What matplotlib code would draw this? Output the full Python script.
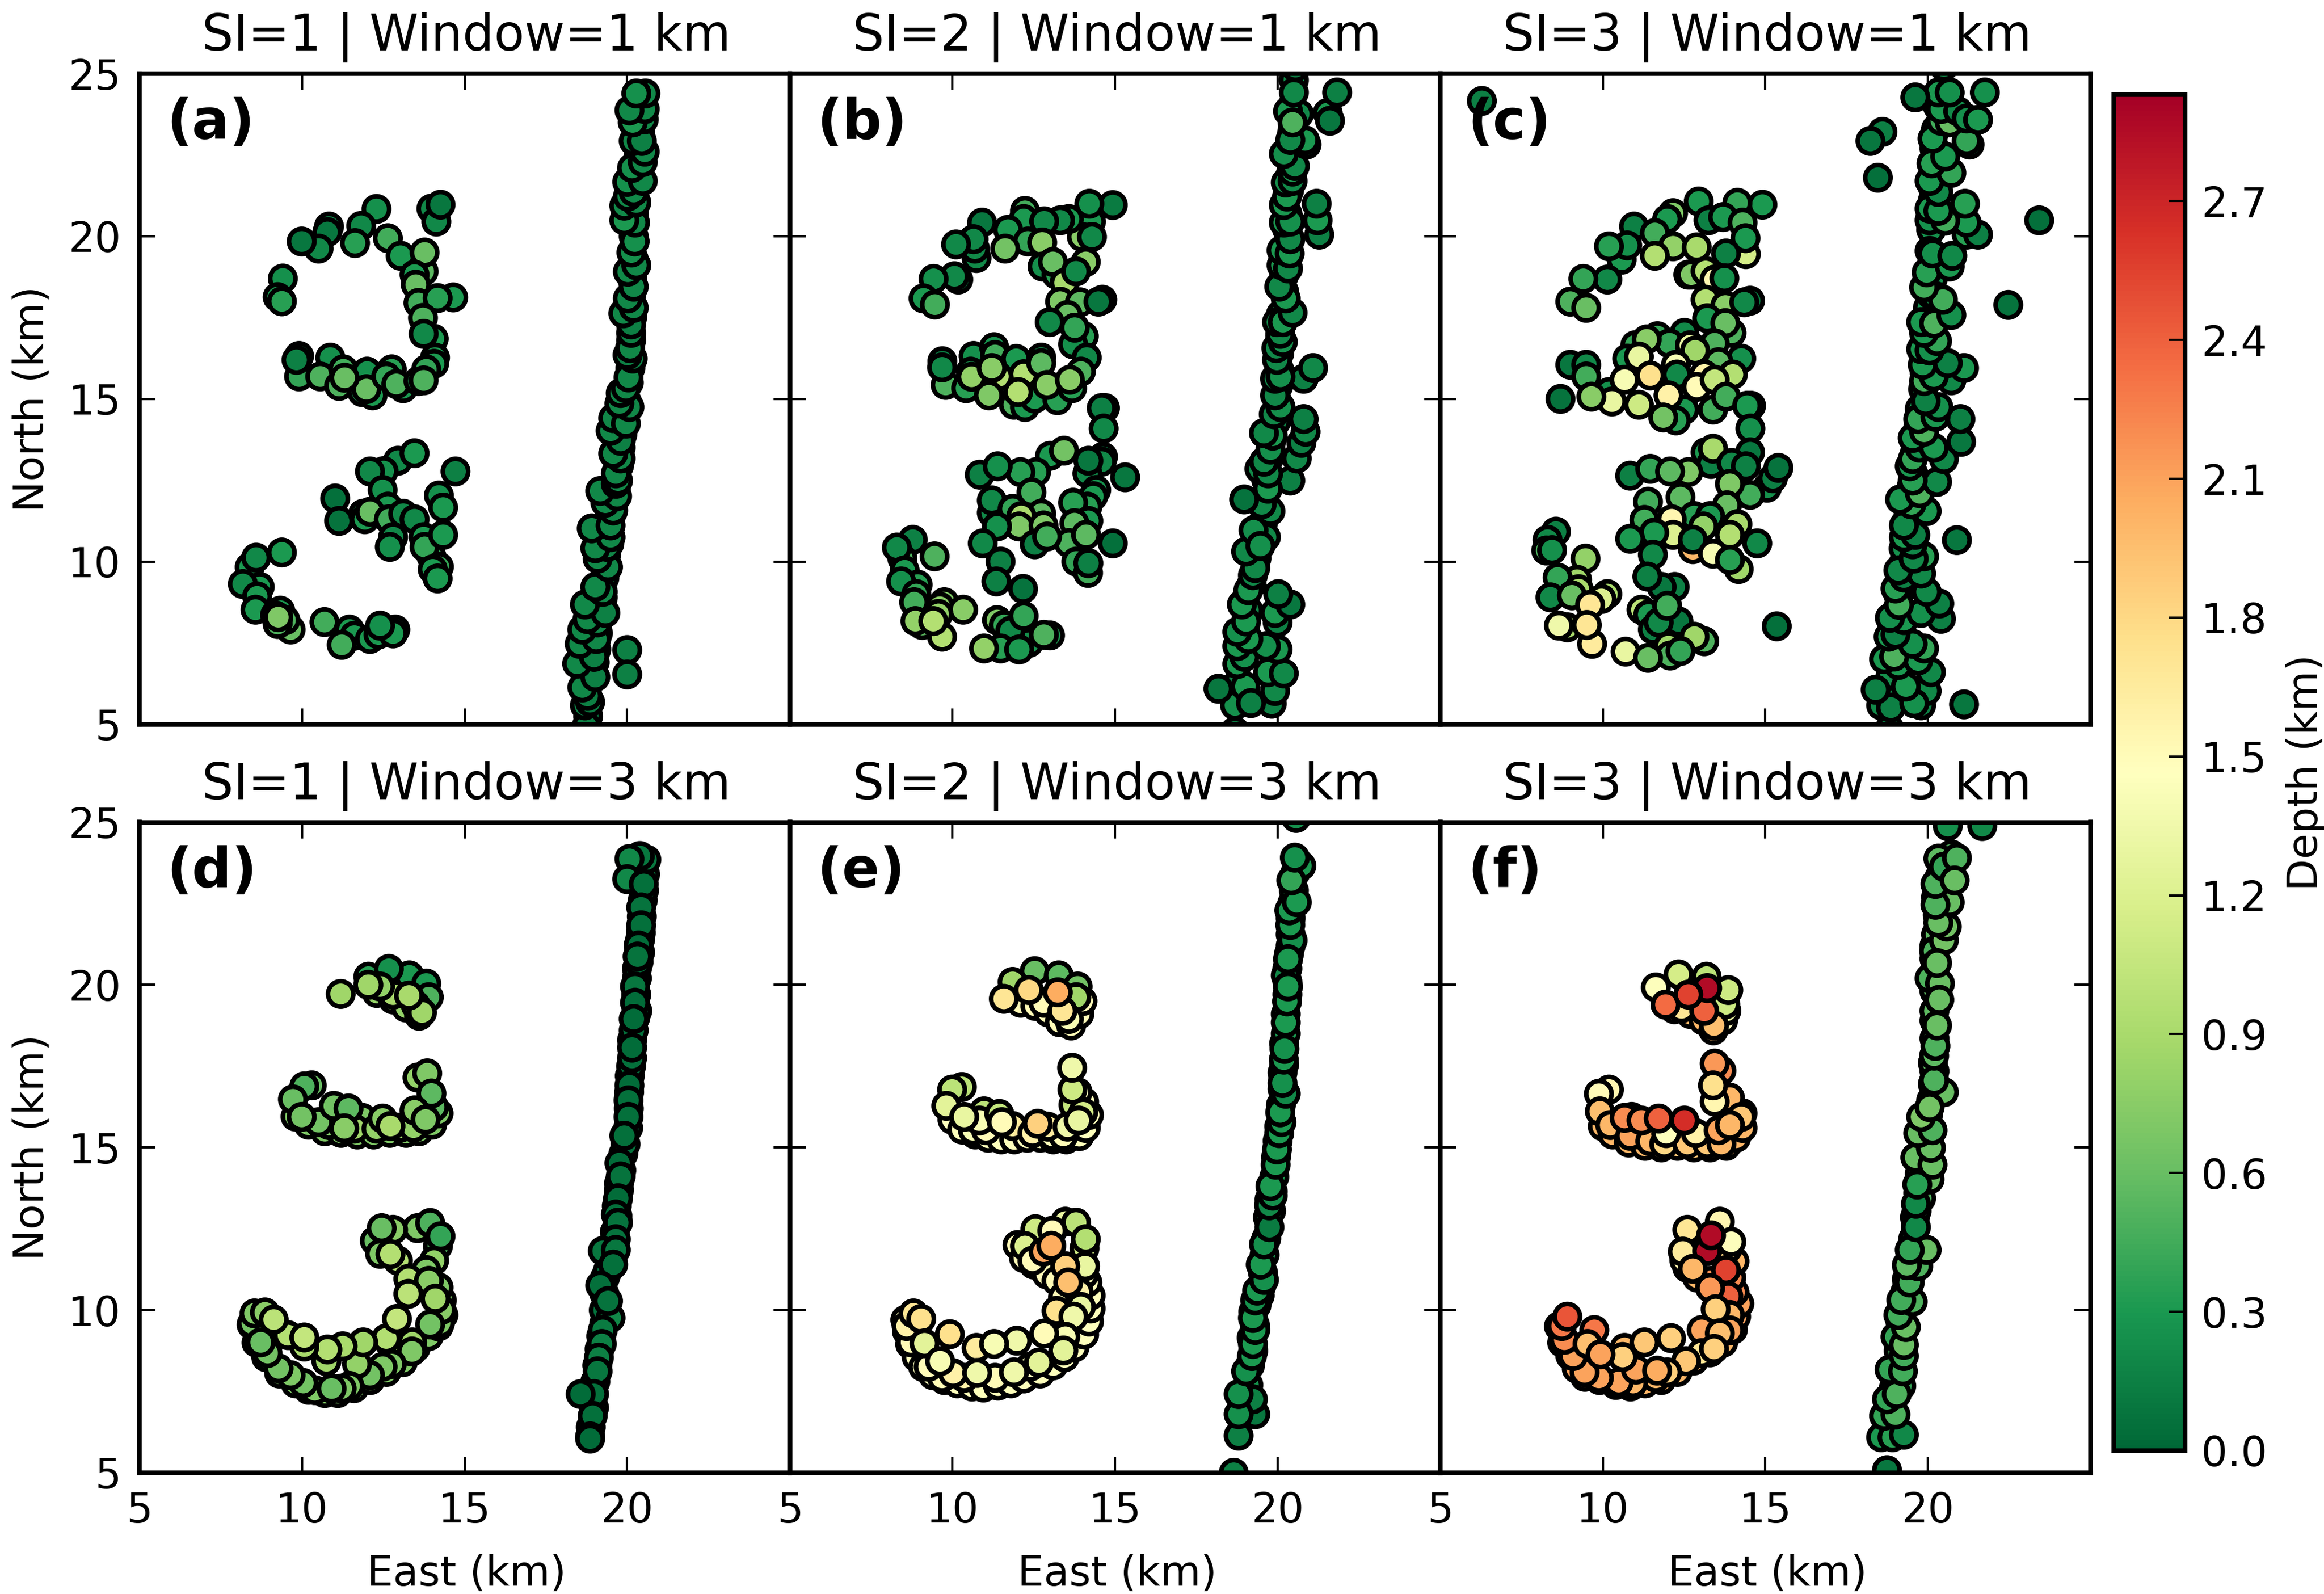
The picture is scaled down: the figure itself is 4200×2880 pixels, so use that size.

# depth solutions for SI=1,2,3 and two window sizes
import numpy as np
import matplotlib
matplotlib.use('Agg')
import matplotlib.pyplot as plt

# each row: east (km), north (km), depth (km)
# trace_* are the solutions buried under the others along each dense band
trace_a = [[18.8,5.25,.12],[18.95,6.6,.15],[19.0,6.9,.15],[19.05,7.3,.15],[19.1,7.8,.15],[19.2,8.7,.15],[19.25,8.9,.15],[19.3,9.5,.15],
           [19.35,10.2,.15],[19.45,10.55,.15],[19.5,11.4,.15],[19.6,11.9,.15],[19.65,12.2,.15],[19.75,12.95,.15],[19.8,13.5,.15],[19.85,13.9,.15],
           [19.9,14.5,.15],[20.0,14.9,.15],[20.05,15.5,.15],[20.1,15.95,.15],[20.12,16.8,.15],[20.15,17.5,.15],[20.12,18.2,.15],[20.15,18.7,.15],
           [20.2,19.3,.15],[20.2,20.0,.15],[20.2,20.7,.15],[20.25,21.5,.15],[20.3,21.9,.15],[20.35,22.45,.15],[20.4,23.2,.15],[20.45,23.7,.15],[20.45,24.1,.15]]
trace_b = [[18.8,6.3,.2],[18.85,7.2,.2],[19.0,8.0,.2],[19.1,8.5,.2],[19.2,9.3,.2],[19.35,10.1,.2],[19.45,10.7,.2],[19.55,11.2,.2],[19.6,11.95,.2],
           [19.65,12.5,.2],[19.75,13.2,.2],[19.8,13.7,.2],[19.95,14.3,.2],[20.0,14.9,.2],[20.02,15.4,.2],[20.05,15.9,.2],[20.05,16.4,.2],[20.08,16.9,.2],
           [20.1,17.6,.2],[20.2,18.3,.2],[20.2,18.8,.2],[20.3,19.3,.2],[20.3,20.2,.2],[20.3,20.7,.2],[20.35,21.4,.2],[20.4,21.9,.2],[20.4,22.3,.2],
           [20.45,23.2,.2],[20.45,24.0,.2],[20.5,24.8,.2]]
trace_c = [[18.75,5.9,.25],[18.85,6.5,.25],[19.0,7.3,.25],[19.05,7.9,.25],[19.05,8.5,.25],[19.1,8.95,.25],[19.2,9.35,.25],[19.25,9.95,.25],
           [19.25,10.4,.25],[19.3,10.95,.25],[19.4,11.4,.25],[19.5,12.3,.25],[19.55,12.7,.25],[19.6,13.35,.25],[19.7,14.1,.25],[19.75,14.7,.25],
           [19.85,15.3,.25],[19.9,15.8,.25],[19.9,16.3,.25],[19.95,16.9,.25],[20.0,17.15,.25],[20.0,17.8,.25],[20.1,18.2,.25],[20.15,18.7,.25],
           [20.15,19.3,.25],[20.1,20.2,.25],[20.15,21.1,.25],[20.15,21.5,.25],[20.2,22.1,.25],[20.2,22.7,.25],[20.25,23.3,.25],[20.3,24.0,.25]]
trace_d = [[18.88,6.4,.05],[18.98,7.0,.05],[19.02,7.8,.05],[19.08,8.3,.05],[19.15,8.8,.05],[19.2,9.2,.05],[19.3,9.6,.05],[19.28,10.0,.05],[19.3,10.5,.05],
           [19.32,11.0,.05],[19.4,11.2,.05],[19.45,11.6,.05],[19.55,12.0,.05],[19.62,12.4,.05],[19.7,12.9,.05],[19.68,13.2,.05],[19.75,13.7,.05],[19.75,13.9,.05],
           [19.82,14.3,.05],[19.88,14.8,.05],[19.95,15.1,.05],[20.03,15.6,.05],[20.05,16.2,.05],[20.06,16.7,.05],[20.08,17.2,.05],[20.12,17.5,.05],[20.15,18.3,.05],
           [20.2,18.6,.05],[20.25,19.0,.05],[20.28,19.7,.05],[20.3,20.2,.05],[20.3,20.5,.05],[20.35,20.7,.05],[20.4,21.0,.05],[20.4,21.4,.05],[20.42,21.6,.05],
           [20.45,22.1,.05],[20.48,22.6,.05],[20.52,22.9,.05],[20.55,23.4,.05],
           [8.45,9.55,.7],[8.6,9.0,.7],[8.9,8.55,.7],[9.3,8.05,.7],[9.8,7.75,.7],[10.2,7.55,.7],[10.7,7.45,.7],[11.1,7.45,.7],[11.6,7.6,.7],[12.1,7.85,.7],
           [12.6,8.1,.7],[13.1,8.4,.7],[13.5,8.85,.7],[13.9,9.2,.7],[14.2,9.5,.7],[14.35,9.85,.7],[14.3,10.3,.7],[14.2,10.7,.7],
           [9.8,15.95,.7],[10.2,15.7,.7],[10.7,15.5,.7],[11.2,15.45,.7],[11.7,15.4,.7],[12.2,15.4,.7],[12.7,15.45,.7],[13.2,15.45,.7],[13.6,15.5,.7],[14.0,15.7,.7],[14.2,16.05,.7],
           [12.3,19.75,.8],[12.8,19.55,.8],[13.2,19.3,.8],[13.6,19.05,.8]]
trace_e = [[19.1,7.7,.25],[19.15,8.3,.3],[19.25,8.75,.3],[19.2,9.15,.3],[19.3,9.55,.3],[19.25,9.95,.3],[19.35,10.15,.3],[19.45,10.45,.3],[19.5,10.75,.3],
           [19.55,11.15,.3],[19.6,11.7,.3],[19.65,12.2,.3],[19.7,12.85,.3],[19.8,13.05,.3],[19.75,13.4,.3],[19.85,13.65,.3],[19.9,14.1,.3],[19.95,14.7,.3],
           [20.0,15.2,.3],[20.05,15.65,.3],[20.1,16.3,.3],[20.15,16.8,.3],[20.15,17.3,.3],[20.2,17.55,.3],[20.2,18.2,.3],[20.25,18.5,.3],[20.25,19.1,.3],
           [20.3,19.7,.3],[20.3,20.1,.3],[20.3,20.5,.3],[20.35,20.95,.3],[20.4,21.2,.3],[20.4,21.55,.3],[20.4,22.05,.3],[20.45,22.5,.3],[20.5,22.9,.3],[20.55,23.45,.3],[20.6,23.8,.3],
           [8.55,9.7,1.45],[8.6,9.35,1.45],[8.7,8.95,1.45],[8.9,8.55,1.45],[9.1,8.25,1.45],[9.4,8.0,1.45],[9.75,7.85,1.45],[10.15,7.75,1.45],[10.6,7.65,1.45],[10.95,7.62,1.45],
           [11.4,7.68,1.45],[11.8,7.75,1.45],[12.2,7.9,1.45],[12.7,8.05,1.45],[13.1,8.3,1.45],[13.45,8.55,1.45],[13.75,8.85,1.45],[14.05,9.25,1.45],[14.2,9.65,1.45],
           [14.25,10.05,1.45],[14.25,10.45,1.45],[14.15,10.85,1.45],[14.05,11.1,1.45],
           [10.0,15.85,1.45],[10.3,15.55,1.45],[10.7,15.4,1.45],[11.1,15.3,1.45],[11.5,15.25,1.45],[11.9,15.25,1.45],[12.3,15.3,1.45],[12.7,15.3,1.45],[13.1,15.25,1.45],
           [13.5,15.25,1.45],[13.9,15.35,1.45],[14.1,15.6,1.45],[14.2,16.0,1.45],[14.05,16.4,1.45],[13.85,16.7,1.45],
           [12.1,19.45,1.5],[12.55,19.35,1.5],[12.95,19.15,1.5],[13.3,18.85,1.5],[13.65,18.75,1.5],[13.9,19.1,1.5],[14.0,19.5,1.5],
           [12.0,12.0,1.5],[12.2,11.6,1.5],[12.5,11.4,1.5],[12.9,11.1,1.5],[13.2,10.9,1.5],[13.4,10.4,1.5]]
trace_f = [[18.9,7.0,.45],[18.95,7.6,.45],[19.05,7.9,.45],[19.05,8.35,.45],[19.1,8.75,.45],[19.1,9.1,.45],[19.15,9.65,.45],[19.2,10.05,.45],[19.3,10.55,.45],[19.35,10.95,.45],
           [19.45,11.55,.45],[19.55,12.2,.45],[19.6,12.85,.45],[19.65,13.05,.45],[19.7,13.6,.45],[19.75,14.2,.5],[19.85,14.9,.5],[19.9,15.2,.5],[19.95,15.7,.5],[20.0,16.0,.55],
           [20.1,16.45,.55],[20.15,16.95,.55],[20.2,17.35,.55],[20.15,17.6,.55],[20.2,18.35,.55],[20.2,18.9,.55],[20.2,19.2,.55],[20.2,19.8,.55],[20.2,20.4,.55],[20.2,20.8,.55],
           [20.2,21.2,.55],[20.25,21.55,.55],[20.3,22.15,.55],[20.25,22.7,.55],[20.35,23.3,.55],[20.45,23.75,.55],
           [8.65,9.5,2.2],[8.75,9.0,2.2],[9.0,8.6,2.1],[9.2,8.2,2.1],[9.45,7.95,2.1],[9.9,7.85,2.1],[10.4,7.7,2.1],[10.85,7.65,2.0],[11.3,7.75,2.0],[11.8,7.85,2.0],
           [12.3,8.1,2.0],[12.8,8.45,2.0],[13.3,8.7,2.0],[13.7,9.0,2.0],[14.0,9.4,2.0],[14.1,9.8,2.1],[14.2,10.2,2.1],[14.05,10.55,2.2],[13.95,11.0,2.2],[14.05,11.5,2.0],[13.85,11.9,1.8],
           [10.0,15.65,2.0],[10.3,15.4,2.0],[10.8,15.15,2.0],[11.3,15.05,2.0],[11.8,15.0,1.9],[12.3,15.05,1.9],[12.8,15.0,1.9],[13.3,15.0,1.9],[13.8,15.05,2.0],[14.1,15.3,2.0],[14.3,15.6,2.0],[14.3,16.05,2.0],
           [12.2,19.25,2.0],[12.7,19.1,2.0],[13.1,18.9,2.0],[13.4,18.6,2.0],[13.7,18.9,1.5],[13.8,19.2,1.3],
           [12.6,11.3,2.0],[12.9,11.0,2.0],[13.3,10.9,2.2],[12.5,11.65,1.7]]

points_a = np.array([
    # fault trace
    [18.75,4.93,.15],[18.7,5.58,.15],[18.86,5.68,.12],[18.78,5.87,.15],[18.62,6.13,.2],[19.02,6.45,.15],[18.46,6.86,.2],
    [18.98,7.07,.15],[18.54,7.47,.2],[19.05,7.62,.2],[18.62,7.91,.2],[19.09,8.13,.2],[18.78,8.23,.2],[19.33,8.42,.15],
    [18.7,8.68,.2],[19.25,9.07,.2],[19.02,9.22,.2],[19.41,9.83,.2],[19.09,10.09,.2],[19.38,10.45,.2],[19.02,10.41,.2],
    [19.49,10.75,.2],[18.91,11.02,.2],[19.49,11.11,.2],[19.57,11.57,.2],[19.33,11.81,.2],[19.69,12.01,.2],[19.17,12.17,.2],
    [19.65,12.39,.2],[19.72,12.49,.2],[19.65,12.71,.2],[19.8,13.17,.2],[19.57,13.32,.2],[19.8,13.71,.15],[19.49,14.02,.2],
    [19.57,14.41,.2],[19.96,14.24,.2],[20.07,14.75,.2],[19.76,14.86,.2],[19.8,15.18,.2],[19.96,15.33,.2],[20.04,15.66,.2],
    [20.17,16.24,.15],[20.01,16.35,.15],[20.09,16.56,.2],[20.12,17.03,.15],[20.12,17.29,.15],[19.88,17.63,.2],[20.2,17.8,.2],
    [20.02,18.09,.2],[20.2,18.45,.2],[20.02,18.91,.2],[20.28,19.11,.2],[20.13,19.5,.25],[20.23,19.84,.25],[20.24,20.42,.2],
    [19.91,20.49,.3],[19.91,20.94,.2],[20.28,21.04,.2],[20.02,21.22,.2],[20.2,21.36,.2],[20.0,21.67,.25],[20.48,21.7,.2],
    [20.15,22.1,.25],[20.48,22.28,.2],[20.54,22.6,.2],[20.2,22.93,.2],[20.45,22.93,.15],[20.51,23.59,.2],[20.17,23.5,.3],
    [20.54,23.91,.2],[20.07,23.87,.2],[20.56,24.39,.2],[20.28,24.39,.25],[20.0,7.28,.15],[20.0,6.53,.15],
    # upper arc
    [13.98,20.85,.2],[14.13,20.45,.2],[14.26,20.97,.1],[12.29,20.84,.25],[11.82,20.32,.2],[10.83,20.3,.15],[10.78,20.13,.1],
    [10.51,19.62,.2],[9.99,19.84,.1],[11.63,19.79,.35],[12.64,19.94,.45],[13.03,19.4,.3],[13.74,18.92,.55],[13.77,19.5,.6],
    [13.46,18.82,.3],[13.5,18.51,.6],[13.58,17.95,.45],[14.65,18.12,.3],[14.17,18.1,.35],[13.72,17.49,.5],[14.05,16.85,.3],
    [13.74,17.0,.2],[14.09,16.27,.3],[14.06,16.08,.3],[9.41,18.7,.25],[9.25,18.13,.3],[9.38,18.0,.35],
    # middle row
    [9.91,16.32,.2],[9.91,15.69,.4],[9.83,16.2,.15],[10.87,16.27,.25],[10.56,15.69,.5],[11.14,15.4,.5],[11.27,15.91,.45],
    [11.85,15.21,.3],[12.17,15.11,.3],[12.0,15.84,.25],[11.98,15.3,.6],[11.31,15.65,.6],[12.76,15.91,.35],[12.59,15.69,.4],
    [13.11,15.33,.3],[12.9,15.46,.5],[13.58,15.55,.3],[13.82,15.91,.4],[13.74,15.57,.5],
    # lower group
    [12.95,13.1,.2],[13.46,13.33,.3],[12.51,12.78,.25],[12.09,12.77,.2],[14.72,12.77,.15],[12.48,12.2,.25],[11.02,11.94,.05],
    [11.14,11.25,.08],[11.88,11.47,.3],[11.93,11.3,.3],[12.64,11.69,.3],[12.09,11.53,.6],[12.67,11.3,.45],[13.11,11.47,.2],
    [13.46,11.3,.2],[14.21,12.03,.25],[14.34,11.66,.3],[13.98,10.16,.4],[13.74,10.75,.3],[13.77,10.45,.4],[12.8,10.75,.2],
    [12.7,10.45,.25],[14.34,10.82,.3],[14.21,9.84,.4],[14.02,9.76,.3],[14.17,9.48,.3],
    # lower arc
    [9.38,10.28,.3],[8.39,9.83,.3],[8.59,10.12,.2],[8.7,9.22,.3],[8.18,9.31,.2],[8.62,8.93,.3],[8.57,8.52,.3],[9.33,8.49,.3],
    [9.17,8.35,.4],[9.65,7.91,.6],[9.49,8.2,.5],[9.25,8.08,.5],[9.27,8.29,.7],[10.69,8.14,.45],[11.46,7.91,.3],[11.61,7.72,.3],
    [12.09,7.62,.3],[11.22,7.44,.45],[12.35,7.76,.3],[12.87,7.91,.2],[12.8,7.79,.3],[12.4,8.03,.25],
])

points_b = np.array([
    [18.69,4.78,.1],[18.69,5.58,.25],[19.82,5.63,.15],[19.92,6.02,.2],[19.01,6.16,.3],[18.18,6.09,.1],[19.18,5.65,.15],
    [19.71,6.6,.3],[20.19,6.56,.2],[18.76,6.85,.3],[18.98,7.07,.25],[20.0,7.3,.3],[19.64,7.4,.25],[18.76,7.4,.3],[19.1,7.62,.3],
    [18.76,7.84,.25],[20.0,8.13,.15],[19.03,8.16,.3],[19.92,8.42,.3],[18.9,8.68,.3],[20.39,8.68,.1],[20.02,9.0,.15],[19.1,9.12,.3],
    [19.24,9.58,.2],[19.31,9.8,.2],[19.03,10.31,.2],[19.64,10.75,.2],[19.26,10.96,.25],[19.47,10.48,.25],[19.78,11.55,.2],
    [19.51,11.76,.2],[18.97,11.91,.08],[20.39,12.49,.15],[19.7,12.24,.3],[19.44,12.85,.2],[19.71,12.71,.2],[19.58,13.07,.2],
    [20.59,13.17,.2],[19.78,13.44,.25],[20.73,13.65,.15],[19.85,13.87,.3],[19.58,13.95,.2],[20.86,13.99,.2],[20.8,14.38,.15],
    [19.88,14.53,.2],[20.09,14.75,.25],[19.92,15.11,.2],[19.92,15.62,.2],[20.8,15.62,.15],[20.09,15.68,.25],[21.09,15.95,.2],
    [19.98,16.2,.2],[19.96,16.56,.2],[20.16,16.75,.25],[20.08,17.0,.2],[19.98,17.36,.2],[20.16,17.36,.3],[20.46,17.65,.2],
    [20.25,18.09,.3],[20.05,18.45,.2],[20.12,19.11,.3],[20.32,19.01,.2],[20.12,19.57,.3],[20.37,19.47,.3],[20.39,19.91,.2],
    [21.28,20.05,.15],[21.23,20.49,.3],[20.19,20.42,.3],[20.39,20.45,.25],[20.19,20.96,.3],[21.2,21.0,.15],[20.29,21.22,.3],
    [20.25,21.65,.25],[20.46,21.7,.2],[20.46,21.99,.3],[20.53,22.16,.2],[20.19,22.53,.25],[20.89,22.82,.15],[20.84,22.95,.3],
    [20.39,22.96,.2],[20.66,23.76,.2],[20.32,23.84,.3],[20.46,23.5,.5],[21.54,23.79,.3],[21.61,23.55,.1],[20.5,24.42,.2],
    [21.83,24.42,.15],[20.55,25.2,.15],
    # upper arc
    [14.93,20.96,.12],[14.26,20.45,.3],[14.21,21.0,.25],[13.98,19.98,.75],[14.29,19.98,.2],[13.58,20.53,.3],[13.31,20.49,.2],
    [12.23,20.78,.45],[12.19,20.53,.3],[12.82,20.46,.2],[10.91,20.42,.1],[11.71,20.2,.3],[10.74,19.33,.2],[10.69,19.62,.2],
    [10.65,19.91,.2],[10.11,19.75,.2],[12.32,19.84,.4],[11.62,19.62,.65],[12.76,19.81,.75],[12.77,19.07,.25],[14.1,19.21,.75],
    [13.2,18.82,.35],[13.09,19.21,.6],[13.45,18.57,.9],[13.8,18.92,.2],[10.18,18.67,.15],[10.06,18.77,.2],[9.42,18.69,.25],
    [9.11,18.09,.3],[9.46,17.9,.45],[13.31,17.99,.7],[13.92,17.97,.55],[14.61,18.05,.1],[14.49,17.99,.1],[13.54,17.58,.6],
    [12.99,17.36,.2],[14.04,16.93,.35],[13.71,16.68,.25],[13.76,17.19,.4],[14.13,16.27,.2],[13.95,15.84,.5],
    # middle row
    [9.79,15.43,.5],[9.69,16.16,.1],[9.68,15.97,.2],[10.65,16.32,.25],[10.42,15.33,.35],[10.56,15.84,.25],[10.59,15.68,.8],
    [11.28,16.59,.25],[11.31,16.35,.45],[11.89,14.82,.5],[12.23,14.75,.3],[11.96,16.23,.3],[12.19,15.76,.95],[11.41,15.69,.95],
    [11.21,15.95,.75],[11.12,15.11,.7],[12.53,15.01,.3],[12.02,15.21,.95],[12.73,16.27,.2],[12.73,16.1,.55],[13.23,14.96,.35],
    [12.91,15.43,.75],[13.68,15.33,.35],[13.61,15.59,.75],
    [14.69,14.72,.1],[14.59,14.72,.15],[14.65,14.09,.2],
    # lower group
    [14.63,13.22,.1],[14.59,13.07,.2],[13.0,13.25,.3],[13.43,13.41,.65],[14.15,12.71,.2],[14.18,13.1,.1],[15.31,12.59,.1],
    [12.57,12.75,.35],[12.09,12.75,.35],[10.84,12.67,.15],[11.39,12.93,.25],[14.42,12.2,.25],[14.33,12.01,.3],[12.43,12.13,.45],
    [11.21,11.5,.2],[11.21,11.88,.2],[14.15,11.69,.35],[13.71,11.81,.35],[11.85,11.62,.4],[12.73,11.47,.55],[12.12,11.4,.9],
    [12.05,11.08,.7],[11.37,11.08,.25],[12.8,11.11,.7],[14.18,11.25,.3],[13.75,11.18,.55],[10.93,10.56,.2],[12.53,10.53,.15],
    [13.58,10.57,.5],[12.91,10.77,.45],[14.11,10.82,.55],[14.93,10.56,.05],[13.81,10.0,.4],[11.48,10.0,.15],[14.17,9.65,.45],
    [14.18,9.95,.15],[11.35,9.39,.15],[12.17,9.16,.08],
    # lower arc
    [8.78,10.67,.15],[8.46,10.09,.5],[8.29,10.43,.2],[9.45,10.16,.5],[8.53,9.73,.3],[8.93,9.29,.35],[8.42,9.39,.25],[8.89,9.0,.4],
    [8.82,8.75,.45],[9.75,8.75,.7],[9.61,8.61,.75],[10.33,8.52,.75],[9.07,8.05,.55],[8.86,8.17,.8],[9.57,8.39,.8],[9.68,7.69,.95],
    [9.41,8.17,.95],[11.37,8.2,.7],[11.58,8.05,.4],[12.12,7.69,.3],[12.35,7.5,.25],[11.78,7.87,.2],[12.19,8.33,.4],[11.48,7.33,.35],
    [12.05,7.3,.3],[10.97,7.33,.8],[13.0,7.73,.3],[12.81,7.75,.5],
])

points_c = np.array([
    # fault trace
    [18.82,4.85,.1],[18.56,5.58,.2],[18.86,5.51,.15],[19.79,5.58,.15],[19.96,6.02,.2],[19.58,5.64,.25],[18.39,6.06,.15],[19.32,6.16,.3],
    [20.09,6.6,.2],[19.09,6.82,.3],[19.7,6.96,.3],[18.65,7.0,.3],[18.96,7.08,.5],[19.88,7.33,.4],[19.53,7.47,.25],[18.79,7.69,.3],
    [19.0,7.76,.15],[19.26,8.2,.3],[20.4,8.24,.15],[18.83,8.27,.25],[19.79,8.42,.25],[19.11,8.67,.45],[20.35,8.71,.15],[19.96,9.07,.2],
    [19.0,9.17,.35],[19.26,9.51,.15],[19.79,9.63,.2],[19.09,9.73,.2],[19.88,10.16,.35],[19.56,10.09,.2],[19.53,10.53,.2],[19.26,10.75,.3],
    [19.61,10.82,.15],[19.26,11.11,.2],[19.96,11.55,.3],[19.49,11.76,.4],[19.14,11.91,.3],[19.75,12.1,.5],[20.28,12.45,.2],[19.53,12.49,.35],
    [19.44,12.93,.3],[19.53,13.15,.4],[20.49,13.15,.2],[19.74,13.5,.25],[20.18,13.5,.3],[19.53,13.8,.3],[21.02,13.68,.1],[19.88,13.99,.5],
    [19.7,14.38,.4],[21.0,14.38,.15],[20.23,14.45,.3],[20.32,14.75,.25],[19.93,14.93,.15],[19.88,15.55,.45],[20.72,15.57,.2],[20.18,15.69,.3],
    [19.84,16.05,.3],[21.11,15.95,.3],[20.61,16.1,.15],[19.79,16.53,.3],[20.05,16.49,.25],[20.28,16.78,.4],[19.88,17.03,.3],[19.79,17.36,.3],
    [20.19,17.32,.5],[20.72,17.58,.25],[20.23,18.16,.3],[20.46,18.05,.45],[19.88,18.43,.45],[19.96,18.89,.35],[20.67,19.07,.3],[20.05,19.55,.3],
    [20.14,19.47,.25],[20.75,19.4,.2],[21.19,20.05,.35],[21.54,20.05,.15],[20.05,20.49,.25],[21.19,20.42,.3],[20.53,20.48,.45],[20.05,20.85,.3],
    [20.32,20.78,.3],[21.14,21.0,.35],[20.32,21.36,.2],[20.05,21.7,.3],[20.72,21.95,.4],[20.11,22.24,.35],[20.53,22.45,.3],[21.28,22.82,.2],
    [21.19,22.93,.4],[20.14,23.0,.3],[20.4,23.55,.45],[20.67,23.5,.6],[20.4,23.91,.3],[20.93,23.84,.2],[21.19,23.62,.25],[21.54,23.58,.3],
    [20.32,24.42,.3],[20.67,24.42,.25],[21.75,24.42,.25],[20.49,25.22,.2],
    # scattered far points
    [6.28,24.16,.15],[18.6,23.21,.15],[18.23,22.93,.1],[18.46,21.8,.05],[19.61,24.27,.1],[23.42,20.49,.05],[22.47,17.89,.08],
    [20.89,10.66,.1],[21.11,5.61,.1],[15.35,8.01,.05],[8.7,15.0,.08],
    # upper arc
    [14.91,20.97,.3],[14.14,21.03,.4],[12.16,20.71,.7],[11.98,20.53,.3],[12.95,21.07,.3],[13.25,20.49,.15],[13.7,20.59,.3],[14.3,20.42,.5],
    [14.4,19.45,1.15],[14.39,19.94,.3],[10.96,20.3,.15],[11.6,20.1,.45],[10.58,19.28,.3],[10.75,19.72,.25],[10.19,19.69,.35],[12.16,19.69,.8],
    [13.79,19.47,.15],[12.89,19.66,.9],[11.6,19.4,.95],[12.63,18.82,.3],[12.72,18.82,.7],[13.16,18.93,.95],[13.44,18.67,1.55],[13.74,18.71,.25],
    [10.14,18.67,.2],[9.4,18.69,.4],[9.0,17.99,.5],[9.49,17.8,.6],[13.16,18.05,.95],[13.77,17.87,.75],[14.53,18.02,.1],[14.35,17.97,.2],
    [13.96,17.03,.5],[13.21,17.48,.3],[13.77,17.33,.6],[12.51,17.03,.2],[14.26,16.24,.25],
    # middle group
    [11.68,16.93,.4],[11.0,16.65,.4],[12.05,16.71,.4],[11.35,16.83,.75],[12.68,16.65,1.3],[13.44,16.71,.5],[12.84,16.49,.85],[10.75,16.24,.3],
    [12.25,16.05,1.4],[11.11,16.3,1.3],[9.0,16.05,.1],[9.49,16.05,.2],[9.49,15.69,.45],[10.19,15.21,.25],[10.28,14.92,1.3],[9.65,15.07,.75],
    [11.46,15.72,1.75],[12.28,15.75,.2],[13.56,16.13,.55],[13.12,15.75,1.6],[14.0,15.75,.95],[10.67,15.59,1.4],[12.89,15.37,1.5],[13.44,15.59,1.05],
    [11.11,14.82,1.1],[12.51,14.67,.3],[12.02,15.11,1.6],[12.25,14.34,.35],[11.86,14.43,.65],[13.39,14.67,.45],[13.79,15.07,.45],[14.56,14.79,.15],
    [14.44,14.79,.3],[14.54,14.09,.25],
    # lower group
    [14.53,13.36,.1],[13.16,13.36,.3],[13.33,13.0,.15],[13.39,13.47,.9],[13.96,13.03,.2],[14.4,12.93,.15],[15.05,12.27,.25],[15.23,12.56,.15],
    [15.4,12.88,.08],[10.84,12.64,.15],[11.46,12.85,.4],[12.63,12.75,.7],[12.07,12.77,.55],[14.53,12.05,.45],[13.91,12.39,.7],[12.39,11.98,.55],
    [11.39,11.84,.45],[13.82,11.73,.6],[11.28,11.28,.45],[12.81,11.4,.35],[13.3,11.4,.3],[12.12,11.3,1.55],[14.14,11.15,.9],[13.09,11.08,.8],
    [12.16,10.82,1.2],[11.58,10.89,.3],[10.84,10.7,.3],[12.77,10.38,2.0],[12.77,10.67,.15],[14.75,10.56,.2],[13.91,10.82,.95],[13.39,10.24,1.4],
    [14.18,9.77,.85],[13.91,10.05,.35],[11.54,10.21,.2],[12.21,9.22,.15],[11.81,9.22,.1],[11.37,9.54,.15],
    # lower arc
    [8.56,10.92,.15],[8.3,10.67,.2],[8.26,10.34,.5],[8.44,10.35,.25],[9.47,10.09,.8],[9.21,9.44,.85],[8.61,9.51,.4],[9.26,9.15,.9],[8.39,8.9,.2],
    [9.05,8.96,.6],[10.14,9.0,.9],[9.96,8.85,1.2],[9.61,8.67,1.7],[8.91,7.98,.9],[8.65,8.03,1.35],[9.67,7.47,1.65],[9.51,8.05,1.7],[11.19,8.52,1.0],
    [11.4,8.37,.3],[11.54,7.91,.15],[12.33,8.16,.1],[11.72,8.13,.2],[11.98,8.64,.45],[10.7,7.23,1.3],[13.12,7.55,.5],[12.82,7.69,.85],[12.02,7.4,.85],
    [12.07,7.11,.5],[12.39,7.25,.4],[11.39,7.04,.6],
])

points_d = np.array([
    # fault trace
    [20.59,23.85,.1],[20.39,23.96,.1],[20.07,23.87,.2],[20.0,23.25,.2],[20.51,23.1,.05],[20.43,22.38,.08],[20.43,21.83,.05],[20.35,21.21,.03],
    [20.32,20.87,.07],[20.24,19.95,.1],[20.31,19.2,.05],[20.24,19.45,.03],[20.2,18.95,.03],[20.15,17.75,.05],[20.15,18.07,.03],[20.07,16.91,.03],
    [20.04,16.45,.05],[20.04,15.94,.05],[19.91,15.36,.05],[19.76,14.52,.03],[19.8,14.11,.08],[19.72,13.44,.03],[19.65,12.94,.05],[19.72,12.69,.08],
    [19.65,12.18,.08],[19.25,11.82,.1],[19.65,11.85,.1],[19.57,11.4,.05],[19.17,10.76,.05],[19.49,9.76,.2],[19.41,10.28,.08],[19.25,9.39,.12],
    [19.22,8.96,.15],[19.13,8.54,.15],[19.09,8.12,.1],[18.98,7.42,.05],[18.57,7.42,.03],[18.94,6.75,.05],[18.86,6.12,.03],[18.86,6.05,.03],
    # upper
    [12.04,20.25,.35],[13.3,20.29,.3],[12.67,20.49,.25],[13.82,20.04,.3],[13.9,19.62,.5],[12.8,19.7,.9],[12.4,19.95,.8],[13.5,19.37,.8],
    [13.69,19.15,.85],[11.19,19.72,.85],[12.04,20.0,.85],[13.29,19.67,.9],
    # middle
    [13.55,17.15,.8],[13.85,17.28,.7],[14.06,16.24,.55],[13.98,16.66,.55],[10.3,16.91,.6],[10.07,16.88,.5],[9.72,16.48,.6],[10.83,15.69,.7],
    [10.51,15.78,.65],[9.99,15.94,.65],[10.98,16.28,.65],[11.85,15.91,.7],[11.61,15.58,.85],[11.43,16.2,.55],[11.3,15.59,.75],[12.29,15.58,.8],
    [13.03,15.61,.85],[13.43,15.61,.8],[13.46,16.14,.75],[12.48,15.89,.75],[12.72,15.66,.9],[13.8,15.86,.7],
    # lower
    [13.55,12.52,.7],[12.8,12.47,.75],[13.94,12.68,.5],[14.18,11.97,.5],[14.26,12.27,.4],[12.24,12.13,.6],[12.45,12.52,.6],[12.95,11.52,.95],
    [12.4,11.73,.7],[12.72,11.72,.95],[14.06,11.52,.8],[13.82,11.23,.7],[13.27,10.96,.95],[13.9,10.9,.75],[14.24,9.6,.7],[14.29,10.01,.75],
    [14.1,10.35,.85],[13.27,10.5,1.0],[12.69,9.0,.9],[13.39,9.01,.85],[12.59,9.13,.95],[13.94,9.56,.65],[12.92,9.73,1.05],[13.38,8.73,.7],
    [12.76,8.34,.7],[12.48,8.26,.7],[12.09,8.0,.65],[11.69,8.34,.8],[11.46,7.67,.7],[11.22,7.59,.7],[10.39,7.54,.7],[10.91,7.59,.6],[10.04,7.76,.65],
    [9.65,8.0,.7],[10.75,8.43,.85],[9.28,8.21,.65],[8.94,8.68,.65],[11.88,9.01,.85],[11.25,8.89,.9],[10.78,8.79,.95],[10.07,8.88,.9],[9.57,9.23,.95],
    [10.07,9.16,1.05],[8.46,9.59,.65],[8.54,9.9,.7],[8.86,9.93,.75],[8.73,9.01,.6],[9.13,9.71,1.0],
])

points_e = np.array([
    # fault trace
    [18.65,5.0,.15],[18.8,6.14,.15],[19.31,6.8,.1],[19.24,7.26,.15],[18.8,6.8,.25],[18.8,7.42,.25],[19.03,8.12,.25],[19.21,8.59,.3],[19.24,8.96,.3],
    [19.31,9.39,.3],[19.24,9.76,.3],[19.31,10.3,.25],[19.37,10.6,.3],[19.58,10.93,.25],[19.48,11.4,.3],[19.58,12.02,.25],[19.75,12.55,.12],
    [19.74,13.22,.2],[19.85,13.52,.25],[19.78,13.81,.3],[19.94,14.47,.3],[19.98,14.94,.3],[20.05,15.44,.3],[20.12,15.78,.3],[20.08,16.08,.3],
    [20.25,16.65,.2],[20.15,16.98,.25],[20.19,17.7,.3],[20.21,18.03,.25],[20.25,18.84,.3],[20.29,19.49,.3],[20.25,20.29,.2],[20.32,19.95,.3],
    [20.46,21.37,.25],[20.32,20.79,.3],[20.39,21.84,.3],[20.36,22.29,.3],[20.59,22.54,.3],[20.73,23.66,.3],[20.42,23.21,.4],[20.53,23.91,.25],
    [20.57,25.13,.25],
    # upper
    [12.53,20.42,.6],[13.27,20.29,.55],[11.85,20.09,.85],[13.85,19.95,.65],[13.81,19.62,.85],[12.8,19.45,1.5],[13.58,18.95,1.4],[11.58,19.57,1.7],
    [12.35,19.84,1.8],[13.38,19.2,1.7],[13.24,19.77,2.05],
    # middle
    [13.72,16.31,1.05],[13.69,16.78,1.1],[13.68,17.45,1.35],[10.29,16.86,1.0],[9.99,16.78,1.0],[9.81,16.28,1.25],[10.63,15.53,1.4],[11.03,15.53,1.5],
    [10.97,16.11,1.0],[10.83,15.83,1.4],[10.36,15.94,1.3],[11.44,16.03,1.05],[11.85,15.66,1.65],[11.52,15.78,1.5],[12.46,15.44,1.6],[13.07,15.36,1.45],
    [13.41,15.36,1.5],[12.93,15.64,1.65],[12.62,15.73,1.85],[14.02,16.08,1.15],[13.54,15.64,1.35],[13.88,15.83,1.3],
    # lower
    [13.47,12.72,1.3],[13.8,12.69,1.0],[14.06,11.9,1.1],[14.1,12.18,.95],[12.55,12.49,1.1],[13.07,12.44,1.5],[12.23,11.97,1.2],[12.46,11.52,1.5],
    [14.08,11.35,1.3],[13.47,11.35,1.85],[12.8,11.8,2.1],[13.04,11.98,2.05],[13.88,10.56,1.6],[13.56,10.85,1.95],[13.95,10.1,1.3],[13.2,9.98,1.75],
    [13.72,9.8,1.35],[13.47,9.18,1.4],[12.82,9.28,1.5],[13.41,8.76,1.25],[12.39,8.26,1.45],[12.66,8.39,1.25],[11.31,7.92,1.5],[10.36,7.92,1.6],[9.68,7.92,1.5],
    [9.27,8.26,1.5],[8.73,9.01,1.5],[8.59,9.51,1.6],[8.8,9.9,1.7],[10.02,8.06,1.6],[11.98,9.06,1.35],[10.74,8.84,1.65],[11.28,8.96,1.4],[9.92,9.26,1.75],
    [9.04,9.73,1.75],[9.14,8.98,1.25],[9.62,8.43,1.4],[10.76,8.07,1.35],[11.89,8.09,1.35],
])

points_f = np.array([
    # fault trace
    [18.74,5.08,.1],[18.56,6.09,.3],[18.91,6.09,.35],[19.26,6.17,.2],[18.65,6.75,.4],[19.0,6.79,.5],[18.74,7.26,.4],[19.18,7.67,.4],[19.04,7.42,.5],
    [18.82,8.17,.4],[19.23,8.12,.45],[19.26,8.59,.45],[19.0,9.18,.4],[19.26,8.93,.6],[19.32,9.48,.6],[19.09,9.85,.45],[19.53,10.26,.5],[19.18,10.31,.45],
    [19.44,10.85,.45],[19.7,11.35,.5],[19.35,11.38,.55],[19.96,11.85,.6],[19.44,11.85,.4],[19.63,12.55,.2],[19.79,13.44,.5],[19.63,13.27,.2],
    [20.05,14.02,.6],[19.67,13.86,.35],[19.61,14.69,.6],[20.14,14.47,.6],[20.09,14.99,.6],[19.7,15.44,.6],[20.14,15.53,.5],[19.79,15.94,.7],
    [20.49,16.7,.6],[20.05,16.24,.65],[20.19,17.06,.5],[20.19,17.82,.55],[20.23,18.12,.5],[20.28,18.75,.6],[20.05,20.2,.5],[20.37,20.04,.6],[20.35,19.54,.6],
    [20.19,21.04,.5],[20.49,21.37,.65],[20.28,20.67,.6],[20.58,21.79,.65],[20.32,21.91,.6],[20.67,22.54,.6],[20.23,22.46,.5],[20.23,23.1,.5],
    [20.72,24.01,.5],[20.32,23.88,.55],[20.49,23.63,.4],[20.89,23.9,.5],[20.82,23.21,.6],[20.61,24.88,.25],[21.67,24.88,.2],
    # upper
    [13.19,20.25,1.0],[12.33,20.32,1.15],[11.63,19.92,1.45],[13.77,19.4,1.1],[13.86,19.84,1.1],[12.42,19.28,1.7],[13.42,18.75,1.95],[11.93,19.39,2.35],
    [13.12,19.2,2.4],[13.21,19.9,2.85],[12.63,19.7,2.55],
    # middle
    [13.65,17.36,2.2],[13.44,17.58,2.15],[13.91,16.53,2.0],[13.44,16.41,1.55],[13.39,16.91,1.75],[10.19,16.78,1.55],[9.88,16.65,1.5],[9.91,16.11,1.95],
    [10.23,15.69,2.0],[10.84,15.36,2.1],[11.46,15.19,2.0],[11.89,15.11,1.8],[12.6,15.11,1.9],[13.21,15.11,1.9],[13.65,15.11,2.0],[10.89,15.94,2.1],
    [10.67,15.91,2.2],[11.19,15.83,2.2],[11.95,15.44,1.45],[12.86,15.44,1.6],[11.72,15.89,2.4],[14.26,15.94,1.9],[13.56,15.53,2.1],[12.51,15.83,2.65],
    [13.91,15.69,2.0],
    # lower
    [13.6,12.72,1.55],[12.6,12.47,1.7],[13.95,12.1,1.45],[12.51,11.52,1.6],[12.46,11.8,1.65],[13.21,11.82,2.85],[13.33,12.3,2.85],[12.77,11.27,2.0],
    [13.86,10.43,2.4],[13.79,11.23,2.55],[13.3,10.68,2.15],[13.91,9.85,2.0],[13.47,10.03,1.85],[13.91,9.38,2.1],[13.04,9.39,2.1],[13.6,9.29,1.95],
    [13.04,8.68,1.7],[13.42,8.81,1.85],[11.63,7.92,2.0],[10.93,7.76,2.0],[10.49,7.79,2.1],[9.88,7.92,2.1],[9.44,8.09,2.1],[9.09,8.59,2.1],[8.82,9.09,2.2],
    [8.74,9.51,2.3],[12.56,8.43,1.9],[11.98,8.09,1.85],[11.02,8.17,2.1],[11.67,8.14,2.05],[10.67,8.84,2.0],[12.1,9.14,1.85],[11.28,9.01,1.9],[10.61,8.56,1.85],
    [9.74,9.39,2.3],[9.53,8.96,1.95],[9.93,8.64,2.1],[8.91,9.8,2.45],
])

titles = ['SI=1 | Window=1 km', 'SI=2 | Window=1 km', 'SI=3 | Window=1 km',
          'SI=1 | Window=3 km', 'SI=2 | Window=3 km', 'SI=3 | Window=3 km']
labels = ['(a)', '(b)', '(c)', '(d)', '(e)', '(f)']
panels = [points_a, points_b, points_c, points_d, points_e, points_f]
traces = [trace_a, trace_b, trace_c, trace_d, trace_e, trace_f]
depth_max = 2.93
depth_ticks = [0.0, 0.3, 0.6, 0.9, 1.2, 1.5, 1.8, 2.1, 2.4, 2.7]

W, H = 4200.0, 2880.0
lefts = [252, 1427.5, 2602.8]
tops = [133, 1485.5]
ax_w, ax_h = 1175.3, 1175.5

fig = plt.figure(figsize=(14, 9.6), dpi=300, facecolor='w')
norm = plt.Normalize(0, depth_max)
cmap = plt.get_cmap('RdYlGn_r')

for i, pts in enumerate(panels):
    row, col = i // 3, i % 3
    ax = fig.add_axes([lefts[col]/W, 1 - (tops[row] + ax_h)/H, ax_w/W, ax_h/H])
    pts = np.vstack([np.array(traces[i]), pts])
    ax.scatter(pts[:,0], pts[:,1], c=pts[:,2], cmap=cmap, norm=norm, s=121,
               edgecolors='k', linewidths=2.0, zorder=2)
    ax.set_xlim(5, 25)
    ax.set_ylim(5, 25)
    ax.set_xticks([5, 10, 15, 20])
    ax.set_yticks([5, 10, 15, 20, 25])
    ax.tick_params(direction='in', top=True, right=True, length=7, width=1.0,
                   labelsize=18, pad=8, labelleft=(col == 0), labelbottom=(row == 1))
    for s in ax.spines.values():
        s.set_linewidth(2.0)
    ax.set_title(titles[i], fontsize=21.5, pad=10, x=0.503)
    ax.text(0.042, 0.90, labels[i], transform=ax.transAxes, fontsize=24,
            fontweight='bold', va='baseline', zorder=3)
    if col == 0:
        ax.set_ylabel('North (km)', fontsize=18)
        ax.yaxis.set_label_coords(-0.134, 0.5)
    if row == 1:
        ax.set_xlabel('East (km)', fontsize=18)
        ax.xaxis.set_label_coords(0.503, -0.125)

cax = fig.add_axes([3820/W, 1 - 2621/H, 129/W, 2450/H])
sm = plt.cm.ScalarMappable(norm=norm, cmap=cmap)
cb = fig.colorbar(sm, cax=cax, ticks=depth_ticks)
cb.ax.tick_params(direction='in', length=7, width=1.0, labelsize=18, pad=7)
cb.outline.set_linewidth(2.0)
cb.set_label('Depth (km)', fontsize=18, labelpad=8)

fig.savefig('out.png', dpi=300, facecolor='w')
